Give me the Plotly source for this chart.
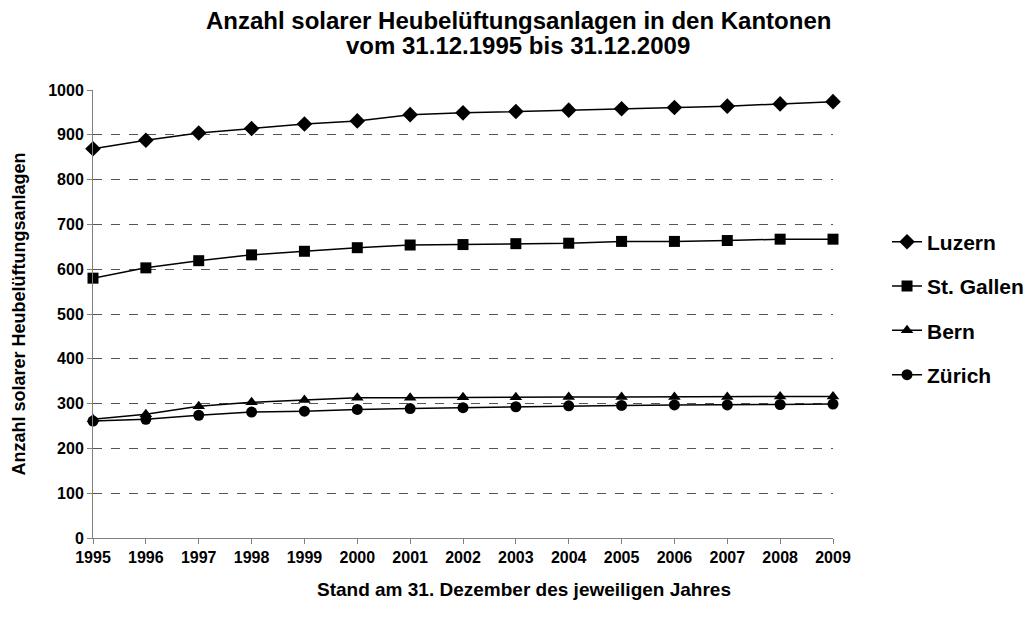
import plotly.graph_objects as go

years = list(range(1995, 2010))
luzern = [869, 888, 904, 914, 924, 931, 945, 949, 952, 955, 958, 961, 964, 969, 974]
st_gallen = [580, 603, 619, 632, 640, 648, 654, 655, 657, 658, 662, 662, 664, 667, 667]
bern = [265, 276, 294, 303, 308, 313, 313, 314, 314, 315, 315, 315, 315, 316, 316]
zuerich = [261, 265, 274, 281, 283, 287, 289, 291, 293, 295, 296, 297, 297, 298, 299]
y_ticks = [0, 100, 200, 300, 400, 500, 600, 700, 800, 900, 1000]

title_lines = ["Anzahl solarer Heubelüftungsanlagen in den Kantonen",
               "vom 31.12.1995 bis 31.12.2009"]
x_title = "Stand am 31. Dezember des jeweiligen Jahres"
y_title = "Anzahl solarer Heubelüftungsanlagen"

series = [
    ("Luzern", luzern, "diamond", 12),
    ("St. Gallen", st_gallen, "square", 11),
    ("Bern", bern, "triangle-up", 11),
    ("Zürich", zuerich, "circle", 11),
]

font_family = "Liberation Sans, Arial, sans-serif"
fig = go.Figure()
for name, vals, sym, size in series:
    fig.add_trace(go.Scatter(
        x=years, y=vals, name=name, mode="lines+markers",
        line=dict(color="black", width=1.5),
        marker=dict(symbol=sym, size=size, color="black"),
        cliponaxis=False, legendgroup=name,
    ))

# plot area: 448 px high, 740 px wide
fig.add_annotation(text=title_lines[0], xref="paper", yref="paper",
                   x=0.575, y=1.156, xanchor="center", yanchor="middle",
                   showarrow=False, font=dict(size=24, weight="bold", family=font_family))
fig.add_annotation(text=title_lines[1], xref="paper", yref="paper",
                   x=0.575, y=1.100, xanchor="center", yanchor="middle",
                   showarrow=False, font=dict(size=24, weight="bold", family=font_family))
fig.add_annotation(text=x_title, xref="paper", yref="paper",
                   x=0.583, y=-0.114, xanchor="center", yanchor="middle",
                   showarrow=False, font=dict(size=19, weight="bold", family=font_family))

fig.update_layout(
    width=1027, height=622,
    paper_bgcolor="white", plot_bgcolor="white",
    margin=dict(l=85, r=202, t=82, b=92, autoexpand=False),
    font=dict(family=font_family, color="black"),
    legend=dict(
        x=1.073, xanchor="left", y=0.512, yanchor="middle",
        font=dict(size=21, weight="bold", family=font_family),
        tracegroupgap=14, itemwidth=30,
    ),
    showlegend=True,
)
fig.update_xaxes(
    range=[1995, 2009], tickmode="array", tickvals=years,
    ticktext=[str(y) for y in years],
    showline=True, linecolor="#808080", linewidth=1,
    ticks="outside", ticklen=5, tickcolor="#808080",
    showgrid=False, zeroline=False, automargin=False,
    tickfont=dict(size=16, weight="bold", family=font_family),
)
fig.update_yaxes(
    range=[0, 1000], tickmode="array", tickvals=y_ticks,
    showline=True, linecolor="#808080", linewidth=1,
    ticks="outside", ticklen=5, tickcolor="#808080",
    showgrid=True, gridcolor="#555555", griddash="dash", gridwidth=1,
    zeroline=False, automargin=False,
    tickfont=dict(size=16, weight="bold", family=font_family),
    title=dict(text=y_title,
               font=dict(size=18, weight="bold", family=font_family), standoff=17),
)
fig.write_html("out.html")
